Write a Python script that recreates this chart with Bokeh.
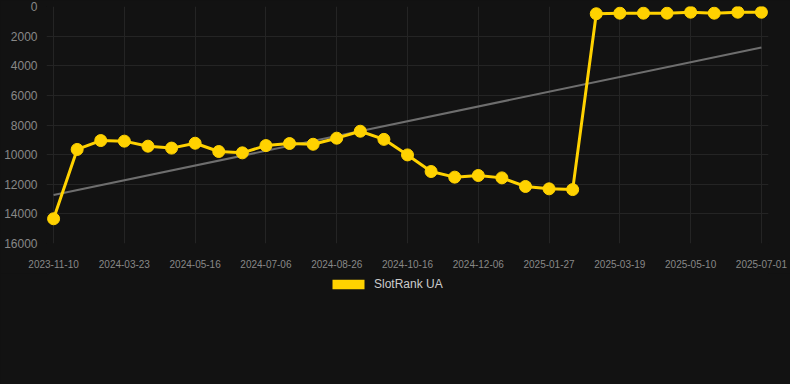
import numpy as np
from bokeh.plotting import figure
from bokeh.layouts import column
from bokeh.models import Range1d, FixedTicker, Legend, LegendItem, ColumnDataSource
from bokeh.embed import file_html
from bokeh.resources import INLINE

# ---- data ----
tick_labels = ["2023-11-10", "2024-03-23", "2024-05-16", "2024-07-06", "2024-08-26",
               "2024-10-16", "2024-12-06", "2025-01-27", "2025-03-19", "2025-05-10",
               "2025-07-01"]
tick_every = 3
rank = [14330, 9650, 9050, 9090, 9430, 9560, 9230, 9790, 9880, 9390, 9250,
        9300, 8890, 8420, 8970, 10020, 11140, 11520, 11410, 11570, 12150,
        12310, 12360, 490, 450, 450, 450, 385, 450, 385, 385]
series_name = "SlotRank UA"
y_ticks = [0, 2000, 4000, 6000, 8000, 10000, 12000, 14000, 16000]

# ---- derived ----
idx = np.arange(len(rank))
slope, intercept = np.polyfit(idx, rank, 1)
trend_x = [idx[0], idx[-1]]
trend_y = [intercept + slope * idx[0], intercept + slope * idx[-1]]
tick_pos = list(range(0, len(rank), tick_every))

BG = "#121212"
GOLD = "#FFD200"
FONT = "Liberation Sans"

src = ColumnDataSource(dict(x=idx, y=rank))

# ---- main chart ----
p = figure(width=790, height=273, output_backend="svg", toolbar_location=None,
           x_range=Range1d(-0.3, len(rank) - 1 + 0.3),
           y_range=Range1d(max(y_ticks), 0),
           min_border_left=46, min_border_right=22, min_border_top=6,
           min_border_bottom=30,
           background_fill_color=BG, border_fill_color=BG, outline_line_color=None)

p.line(trend_x, trend_y, line_color="#6e6e6e", line_width=2)
p.line("x", "y", source=src, line_color=GOLD, line_width=3)
p.scatter("x", "y", source=src, size=12, fill_color=GOLD, line_color=GOLD)

p.xaxis.ticker = FixedTicker(ticks=tick_pos)
p.xaxis.major_label_overrides = {t: lab for t, lab in zip(tick_pos, tick_labels)}
p.yaxis.ticker = FixedTicker(ticks=y_ticks)
p.yaxis.formatter.use_scientific = False

for ax in (p.xaxis, p.yaxis):
    ax.axis_line_color = None
    ax.major_tick_line_color = None
    ax.minor_tick_line_color = None
    ax.major_label_text_font = FONT
    ax.major_label_text_color = "#888888"

p.xaxis.major_label_text_font_size = "10px"
p.xaxis.major_label_standoff = 10
p.yaxis.major_label_text_font_size = "12px"
p.yaxis.major_label_standoff = 3

p.xgrid.ticker = FixedTicker(ticks=tick_pos)
p.ygrid.ticker = FixedTicker(ticks=y_ticks)
p.grid.grid_line_color = "#242424"
p.grid.grid_line_width = 1

# ---- legend strip ----
lg = figure(width=790, height=111, output_backend="svg", toolbar_location=None,
            x_axis_location=None, y_axis_location=None,
            min_border_left=0, min_border_right=0, min_border_top=0, min_border_bottom=0,
            background_fill_color=BG, border_fill_color=BG, outline_line_color=None)
lg.grid.visible = False
# zero-thickness area: only provides the legend swatch
sw = lg.varea(x="x", y1="y", y2="y", source=src, fill_color=GOLD)

legend = Legend(items=[LegendItem(label=series_name, renderers=[sw])],
                location=(282, 93), orientation="horizontal",
                glyph_width=40, glyph_height=12, label_standoff=6,
                label_text_font=FONT, label_text_font_size="12px",
                label_text_color="#cccccc", label_height=12,
                padding=0, margin=0, spacing=0,
                border_line_color=None, background_fill_alpha=0)
lg.add_layout(legend, "center")

layout = column(p, lg, spacing=0)

template = """{% block postamble %}<style>html, body { background-color: #121212; }</style>{% endblock %}"""
open("out.html", "w").write(file_html(layout, INLINE, template=template))
